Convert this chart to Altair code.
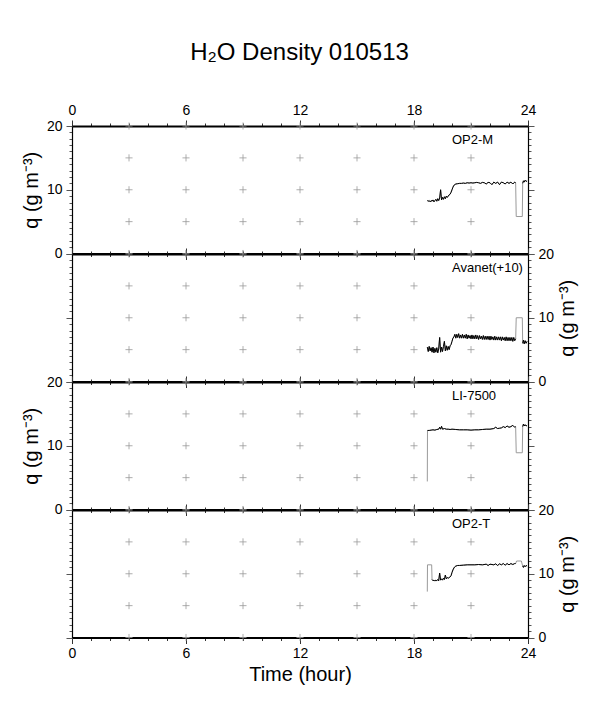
import altair as alt
import pandas as pd

FONT = "Liberation Sans"

title_text = "H\u2082O Density 010513"
y_title = "q (g m\u207b\u00b3)"
x_title = "Time (hour)"
panel_names = ["OP2-M", "Avanet(+10)", "LI-7500", "OP2-T"]
x_ticks = list(range(0, 25))
y_ticks = list(range(0, 21))
grid_x = [3, 6, 9, 12, 15, 18, 21]
grid_y = [0, 5, 10, 15, 20]

# ---------------- OP2-M ----------------
op2m_pre_t = []
op2m_pre_q = []
op2m_main_t = [18.70, 18.75, 18.80, 18.85, 18.90, 18.95, 19.00, 19.05, 19.10, 19.15,
               19.20, 19.25, 19.30, 19.35, 19.40, 19.45, 19.50, 19.55, 19.60, 19.65,
               19.70, 19.75, 19.80, 19.85, 19.90, 19.95, 20.00, 20.05, 20.10, 20.15,
               20.20, 20.30, 20.40, 20.50, 20.60, 20.70, 20.80, 20.90, 21.00, 21.10,
               21.20, 21.30, 21.40, 21.50, 21.60, 21.70, 21.80, 21.90, 22.00, 22.10,
               22.20, 22.30, 22.40, 22.50, 22.60, 22.70, 22.80, 22.90, 23.00, 23.10,
               23.20, 23.30, 23.35]
op2m_main_q = [8.3, 8.2, 8.3, 8.1, 8.3, 8.2, 8.4, 8.1, 8.3, 8.5,
               8.2, 8.6, 8.3, 8.7, 10.0, 8.4, 8.8, 8.5, 8.9, 8.6,
               9.0, 8.8, 9.0, 9.2, 9.3, 9.6, 10.0, 10.4, 10.7, 10.8,
               10.9, 10.95, 11.0, 11.0, 11.05, 11.0, 11.1, 11.05, 11.1, 11.05,
               11.1, 11.15, 11.1, 11.0, 11.15, 11.1, 10.9, 11.15, 11.1, 10.8,
               11.2, 11.0, 11.2, 10.8, 11.2, 11.1, 10.9, 11.2, 11.0, 11.2,
               10.9, 11.2, 11.1]
op2m_gap_t = [23.38, 23.70]
op2m_gap_q = [5.8, 5.8]
op2m_end_t = [23.72, 23.76, 23.80, 23.85, 23.90, 23.95]
op2m_end_q = [11.0, 11.4, 11.2, 11.5, 11.3, 11.4]

# ---------------- Avanet(+10) ----------------
ava_pre_t = []
ava_pre_q = []
ava_main_t = [18.70, 18.75, 18.80, 18.85, 18.90, 18.95, 19.00, 19.05, 19.10, 19.15,
              19.20, 19.25, 19.30, 19.35, 19.40, 19.45, 19.50, 19.55, 19.60, 19.65,
              19.70, 19.75, 19.80, 19.85, 19.90, 19.95, 20.00, 20.05, 20.10, 20.15,
              20.20, 20.25, 20.30, 20.35, 20.40, 20.45, 20.50, 20.55, 20.60, 20.65,
              20.70, 20.75, 20.80, 20.85, 20.90, 20.95, 21.00, 21.05, 21.10, 21.15,
              21.20, 21.25, 21.30, 21.35, 21.40, 21.45, 21.50, 21.55, 21.60, 21.65,
              21.70, 21.75, 21.80, 21.85, 21.90, 21.95, 22.00, 22.05, 22.10, 22.15,
              22.20, 22.25, 22.30, 22.35, 22.40, 22.45, 22.50, 22.55, 22.60, 22.65,
              22.70, 22.75, 22.80, 22.85, 22.90, 22.95, 23.00, 23.05, 23.10, 23.15,
              23.20, 23.25, 23.30, 23.35]
ava_main_q = [5.4, 4.7, 5.5, 4.8, 5.3, 4.6, 5.4, 4.5, 5.2, 4.6,
              5.3, 4.5, 5.1, 6.9, 4.6, 5.4, 4.7, 5.5, 6.3, 4.8,
              5.6, 4.9, 5.5, 5.0, 5.6, 5.8, 6.3, 6.8, 7.0, 7.4,
              6.8, 7.4, 6.9, 7.5, 6.8, 7.3, 6.8, 7.4, 6.8, 7.3,
              6.8, 7.4, 6.7, 7.3, 6.8, 7.2, 6.7, 7.3, 6.7, 7.2,
              6.7, 7.3, 6.7, 7.2, 6.6, 7.2, 6.7, 7.1, 6.6, 7.2,
              6.6, 7.1, 6.6, 7.1, 6.6, 7.1, 6.5, 7.1, 6.6, 7.0,
              6.5, 7.1, 6.5, 7.0, 6.5, 7.0, 6.5, 7.0, 6.4, 7.0,
              6.5, 6.9, 6.4, 7.0, 6.4, 6.9, 6.4, 6.9, 6.4, 6.9,
              6.3, 6.9, 6.4, 6.7]
ava_gap_t = [23.38, 23.70]
ava_gap_q = [10.0, 10.0]
ava_end_t = [23.72, 23.76, 23.80, 23.85, 23.90, 23.95]
ava_end_q = [6.0, 6.5, 5.9, 6.4, 6.0, 6.3]

# ---------------- LI-7500 ----------------
li_pre_t = [18.70]
li_pre_q = [4.4]
li_main_t = [18.71, 18.80, 18.90, 19.00, 19.10, 19.20, 19.30, 19.35, 19.40, 19.45,
             19.50, 19.60, 19.70, 19.80, 19.90, 20.00, 20.20, 20.40, 20.60, 20.80,
             21.00, 21.20, 21.40, 21.60, 21.80, 22.00, 22.20, 22.30, 22.40, 22.50,
             22.60, 22.70, 22.80, 22.90, 23.00, 23.10, 23.20, 23.30, 23.35]
li_main_q = [12.4, 12.4, 12.45, 12.5, 12.45, 12.55, 12.6, 12.9, 12.6, 13.05,
             12.6, 12.7, 12.6, 12.6, 12.55, 12.6, 12.55, 12.5, 12.5, 12.5,
             12.45, 12.5, 12.5, 12.55, 12.6, 12.6, 12.7, 12.9, 12.7, 12.75,
             12.8, 13.0, 12.85, 13.1, 12.9, 13.0, 13.2, 12.9, 13.0]
li_gap_t = [23.38, 23.70]
li_gap_q = [8.9, 8.9]
li_end_t = [23.72, 23.76, 23.80, 23.85, 23.90, 23.95]
li_end_q = [13.0, 13.4, 13.1, 13.3, 13.1, 13.2]

# ---------------- OP2-T ----------------
op2t_pre_t = [18.70, 18.71, 18.93]
op2t_pre_q = [7.2, 11.4, 11.4]
op2t_main_t = [18.95, 19.00, 19.05, 19.10, 19.15, 19.20, 19.25, 19.30, 19.35, 19.40,
               19.45, 19.50, 19.55, 19.60, 19.65, 19.70, 19.75, 19.80, 19.85, 19.90,
               19.95, 20.00, 20.05, 20.10, 20.15, 20.20, 20.30, 20.40, 20.60, 20.80,
               21.00, 21.20, 21.40, 21.60, 21.80, 21.90, 22.00, 22.20, 22.30, 22.40,
               22.50, 22.60, 22.70, 22.80, 22.90, 23.00, 23.10, 23.20, 23.30, 23.35]
op2t_main_q = [9.1, 8.9, 9.0, 8.85, 9.0, 8.9, 9.1, 8.9, 10.1, 9.0,
               9.2, 9.0, 9.3, 9.1, 9.8, 9.2, 9.4, 9.3, 9.4, 9.5,
               9.7, 10.2, 10.6, 10.9, 11.1, 11.2, 11.3, 11.3, 11.35, 11.4,
               11.4, 11.4, 11.45, 11.4, 11.5, 11.3, 11.5, 11.4, 11.55, 11.3,
               11.55, 11.4, 11.6, 11.35, 11.6, 11.4, 11.6, 11.45, 11.6, 11.6]
op2t_gap_t = [23.40, 23.65]
op2t_gap_q = [12.0, 12.0]
op2t_end_t = [23.72, 23.76, 23.80, 23.85, 23.90, 23.95]
op2t_end_q = [11.2, 11.0, 11.3, 11.1, 11.3, 11.2]


def build(pre_t, pre_q, main_t, main_q, gap_t, gap_q, end_t, end_q):
    black = pd.concat([
        pd.DataFrame({"t": main_t, "q": main_q, "seg": "a"}),
        pd.DataFrame({"t": end_t, "q": end_q, "seg": "b"}),
    ], ignore_index=True)
    gray = pd.DataFrame({
        "t": pre_t + main_t + gap_t + end_t,
        "q": pre_q + main_q + gap_q + end_q,
    }).sort_values("t").reset_index(drop=True)
    return black, gray


series = [
    build(op2m_pre_t, op2m_pre_q, op2m_main_t, op2m_main_q, op2m_gap_t, op2m_gap_q, op2m_end_t, op2m_end_q),
    build(ava_pre_t, ava_pre_q, ava_main_t, ava_main_q, ava_gap_t, ava_gap_q, ava_end_t, ava_end_q),
    build(li_pre_t, li_pre_q, li_main_t, li_main_q, li_gap_t, li_gap_q, li_end_t, li_end_q),
    build(op2t_pre_t, op2t_pre_q, op2t_main_t, op2t_main_q, op2t_gap_t, op2t_gap_q, op2t_end_t, op2t_end_q),
]

grid_df = pd.DataFrame([{"t": gx, "q": gy} for gx in grid_x for gy in grid_y])

XS = alt.Scale(domain=[0, 24], nice=False, zero=False)
YS = alt.Scale(domain=[0, 20], nice=False, zero=False)


def x_axis(orient, show_labels, title=None):
    kw = dict(
        orient=orient, values=x_ticks, labels=show_labels,
        labelExpr="datum.value % 6 === 0 ? datum.label : ''",
        labelFlush=False, labelOverlap=False, labelFont=FONT, labelFontSize=14,
        labelColor="black", labelPadding=3,
        tickSize={"condition": {"test": "datum.value % 6 === 0", "value": 6}, "value": 3},
        tickColor="#333", tickWidth=1, domainColor="black", domainWidth=2, grid=False,
    )
    if title:
        kw.update(title=title, titleFont=FONT, titleFontSize=20, titleFontWeight="normal",
                  titleColor="black", titlePadding=4)
    else:
        kw["title"] = None
    return alt.Axis(**kw)


def y_axis(orient, show_labels, title=None):
    kw = dict(
        orient=orient, values=y_ticks, labels=show_labels,
        labelExpr="datum.value % 10 === 0 ? datum.label : ''",
        labelFlush=False, labelOverlap=False, labelFont=FONT, labelFontSize=14,
        labelColor="black", labelPadding=4,
        tickSize={"condition": {"test": "datum.value % 10 === 0", "value": 6}, "value": 3},
        tickColor="#555", tickWidth=1, domainColor="black", domainWidth=1.2, grid=False,
    )
    if title:
        kw.update(title=title, titleFont=FONT, titleFontSize=20, titleFontWeight="normal",
                  titleColor="black", titleAngle=270)
        if orient == "right":
            kw["titleBaseline"] = "top"
            kw["titlePadding"] = 4
        else:
            kw["titlePadding"] = 5
    else:
        kw["title"] = None
    return alt.Axis(**kw)


def panel(i):
    black, gray = series[i]
    top_lab = i == 0
    bot_lab = i == 3
    left_lab = i in (0, 2)
    right_lab = i in (1, 3)

    xa = x_axis("top", top_lab)
    ya = y_axis("left", left_lab, y_title if left_lab else None)
    xb = x_axis("bottom", bot_lab, x_title if bot_lab else None)
    yb = y_axis("right", right_lab, y_title if right_lab else None)

    enc = dict(x=alt.X("t:Q", scale=XS, axis=xa), y=alt.Y("q:Q", scale=YS, axis=ya))

    crosses = alt.Chart(grid_df).mark_point(
        shape="M-1,0H1M0,-1V1", size=50, filled=False, stroke="#999", strokeWidth=0.8, opacity=1
    ).encode(**enc)
    gline = alt.Chart(gray).mark_line(color="#9a9a9a", strokeWidth=1).encode(**enc)
    bline = alt.Chart(black).mark_line(color="black", strokeWidth=1).encode(detail="seg:N", **enc)
    base = alt.layer(crosses, gline, bline)

    label = alt.Chart(pd.DataFrame({"name": [panel_names[i]]})).mark_text(
        align="left", baseline="middle", font=FONT, fontSize=13, color="black"
    ).encode(
        x=alt.X(datum=20.0, type="quantitative", scale=XS, axis=xb),
        y=alt.Y(datum=17.8, type="quantitative", scale=YS, axis=yb),
        text="name:N",
    )
    return alt.layer(base, label).resolve_scale(x="independent", y="independent").properties(
        width=456, height=127.5
    )


chart = alt.vconcat(
    panel(0), panel(1), panel(2), panel(3), spacing=0, bounds="flush"
).properties(
    title=alt.TitleParams(title_text, font=FONT, fontSize=24, fontWeight="normal",
                          color="black", anchor="middle", offset=38),
    padding={"left": 12, "top": 32, "right": 5, "bottom": 5},
).configure_view(stroke=None).configure(background="white")

chart.save("out.html", embed_options={"renderer": "svg", "actions": False})
